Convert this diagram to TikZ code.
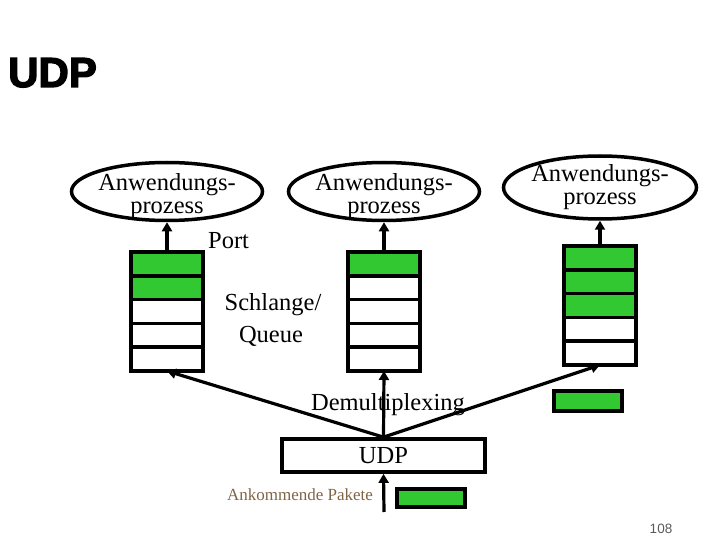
\documentclass[tikz,border=0pt]{standalone}
\usepackage{fontspec}
\setmainfont{Liberation Serif}
\newfontfamily\titlefont[FakeBold=3]{Liberation Sans Bold}
\newfontfamily\numfont{Liberation Sans}
\usetikzlibrary{shapes.geometric,arrows.meta}
\definecolor{pkgreen}{RGB}{50,200,50}
\definecolor{brownish}{RGB}{128,100,70}
\definecolor{pagegray}{RGB}{90,90,90}
\begin{document}
\begin{tikzpicture}[x=1pt,y=-1pt,
  proc/.style={ellipse,draw,line width=3.5pt,minimum width=191pt,minimum height=58pt,inner sep=0pt},
  ptext/.style={align=center,inner sep=0pt,font=\fontsize{24.5}{23}\selectfont},
  cell/.style={draw,line width=3.7pt,minimum width=72pt,minimum height=23.8pt,inner sep=0pt,outer sep=0pt,fill=white},
  full/.style={cell,fill=pkgreen},
  pkt/.style={draw,line width=3.7pt,fill=pkgreen,minimum width=68pt,minimum height=20pt,inner sep=0pt},
  arr/.style={line width=3.2pt,-{Triangle[width=10pt,length=9pt]}},
  lbl/.style={font=\fontsize{24.5}{24}\selectfont,inner sep=0pt},
]
\useasboundingbox (0,0) rectangle (720,540);

% title
\node[anchor=base west,inner sep=0pt,font=\titlefont\fontsize{42}{42}\selectfont] (title) at (8,87) {UDP};

% application processes
\node[proc] (e1) at (167,191.5) {};
\node[proc] (e2) at (384,191.5) {};
\node[proc,minimum width=193pt,minimum height=63pt] (e3) at (600,187.5) {};
\node[ptext] (t1) at ([yshift=-5pt]e1.center) {Anwendungs-\\prozess};
\node[ptext] (t2) at ([yshift=-5pt]e2.center) {Anwendungs-\\prozess};
\node[ptext] (t3) at (e3.center) {Anwendungs-\\prozess};

% queues
\foreach \i/\f in {1/full,2/full,3/cell,4/cell,5/cell}
  \node[\f] (qa\i) at (167,{240.1+\i*23.8}) {};
\foreach \i/\f in {1/full,2/cell,3/cell,4/cell,5/cell}
  \node[\f] (qb\i) at (384,{240.1+\i*23.8}) {};
\foreach \i/\f in {1/full,2/full,3/full,4/cell,5/cell}
  \node[\f] (qc\i) at (600,{234.1+\i*23.8}) {};

% port arrows
\draw[arr] (qa1.north) -- (e1.south);
\draw[arr] (qb1.north) -- (e2.south);
\draw[arr] (qc1.north) -- (e3.south);

% UDP box
\node[draw,line width=3.7pt,minimum width=203pt,minimum height=33pt,inner sep=0pt,font=\fontsize{24.5}{24}\selectfont] (udp) at (383.5,455.5) {UDP};

% demultiplexing arrows
\draw[arr] (udp.north) -- (qa5.south);
\draw[arr] (udp.north) -- (qb5.south);
\draw[arr] (udp.north) -- (qc5.south);

% incoming
\coordinate (src) at (384,512);
\draw[arr] (src) -- (udp.south);

% packets
\node[pkt] (p1) at (588,401) {};
\node[pkt,minimum height=18pt] (p2) at (431,498) {};

% labels
\node[lbl,anchor=base west] (port) at (208,248) {Port};
\node[lbl,anchor=base] (schl) at (273,310) {Schlange/};
\node[lbl,anchor=base] (queue) at (271,342) {Queue};
\node[lbl,anchor=base] (demux) at (388,410) {Demultiplexing};
\node[anchor=base,inner sep=0pt,text=brownish,font=\fontsize{17}{17}\selectfont] (ank) at (300,500) {Ankommende Pakete};
\node[anchor=base,inner sep=0pt,text=pagegray,font=\numfont\fontsize{13.5}{13.5}\selectfont] (pnum) at (661,533) {108};
\end{tikzpicture}
\end{document}
